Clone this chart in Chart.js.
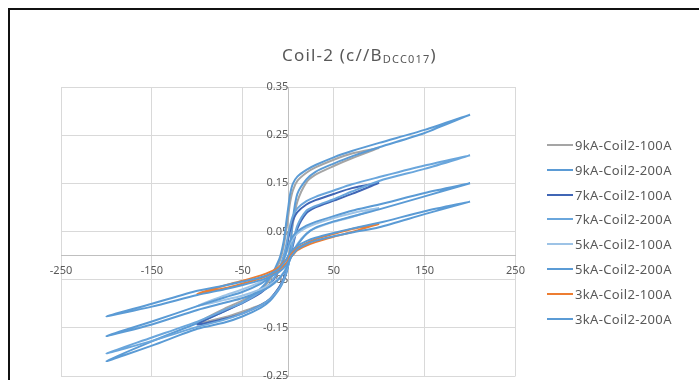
<!DOCTYPE html>
<html>
<head>
<meta charset="utf-8">
<title>Coil-2 (c//B DCC017)</title>
<script src="https://cdn.jsdelivr.net/npm/chart.js@4.4.0/dist/chart.umd.min.js"></script>
<style>
  body { margin: 0; background: #fff; overflow: hidden; }
  #wrap { position: relative; width: 699px; height: 380px; }
  canvas { position: absolute; left: 0; top: 0; }
  #frame {
    position: absolute; left: 8px; top: 8px; width: 700px; height: 380px;
    border-top: 2px solid #111; border-left: 2px solid #111; pointer-events: none;
  }
  #chartTitle {
    position: absolute; left: 282px; top: 45px; white-space: nowrap;
    font-family: "Noto Sans", sans-serif; font-size: 17px; line-height: 20px;
    color: #595959; letter-spacing: 1.2px;
  }
  #chartTitle .sub { font-size: 11px; vertical-align: -2px; }
  #legend {
    position: absolute; left: 547px; top: 132.6px; margin: 0; padding: 0; list-style: none;
    font-family: "Noto Sans", sans-serif; font-size: 13px; color: #595959; letter-spacing: 0.35px;
  }
  #legend li { display: flex; align-items: center; height: 24.8px; white-space: nowrap; }
  #legend .swatch { width: 26px; height: 2px; margin-right: 2px; }
</style>
</head>
<body>
<div id="wrap">
  <canvas id="coilChart" width="699" height="380"></canvas>
  <div id="frame"></div>
  <div id="chartTitle">Coil-2 (c//B<span class="sub">DCC017</span>)</div>
  <ul id="legend"></ul>
</div>
<script>
// current sweep (A): down = +max -> -max, up = -max -> +max
const fieldDown200 = [200, 150, 100, 70, 50, 30, 20, 10, 5, 2, 0, -2, -5, -10, -20, -30, -50, -70, -100, -150, -200];
const fieldUp200 = [-200, -150, -100, -70, -50, -30, -20, -10, -5, -2, 0, 2, 5, 10, 20, 30, 50, 70, 100, 150, 200];
const fieldDown100 = [100, 70, 50, 30, 20, 10, 5, 2, 0, -2, -5, -10, -20, -30, -50, -70, -100];
const fieldUp100 = [-100, -70, -50, -30, -20, -10, -5, -2, 0, 2, 5, 10, 20, 30, 50, 70, 100];

const kA9_100Down = [0.2235, 0.212, 0.199, 0.183, 0.172, 0.155, 0.135, 0.110, 0.082, 0.055, 0.020, -0.015, -0.050, -0.070, -0.093, -0.110, -0.140];
const kA9_100Up = [-0.140, -0.128, -0.116, -0.102, -0.090, -0.066, -0.048, -0.031, -0.013, 0.020, 0.065, 0.112, 0.152, 0.168, 0.186, 0.202, 0.2235];
const kA9_200Down = [0.2925, 0.261, 0.234, 0.217, 0.204, 0.188, 0.178, 0.164, 0.149, 0.127, 0.100, 0.072, 0.030, -0.008, -0.045, -0.068, -0.097, -0.115, -0.140, -0.178, -0.219];
const kA9_200Up = [-0.219, -0.187, -0.152, -0.139, -0.126, -0.108, -0.094, -0.070, -0.052, -0.036, -0.020, 0.010, 0.075, 0.128, 0.158, 0.174, 0.191, 0.206, 0.225, 0.2545, 0.2925];

const kA7_100Down = [0.151, 0.140, 0.128, 0.115, 0.106, 0.090, 0.072, 0.052, 0.035, 0.017, -0.005, -0.030, -0.060, -0.077, -0.098, -0.115, -0.143];
const kA7_100Up = [-0.143, -0.131, -0.120, -0.103, -0.090, -0.066, -0.048, -0.032, -0.018, -0.002, 0.020, 0.056, 0.088, 0.100, 0.114, 0.128, 0.151];
const kA7_200Down = [0.208, 0.187, 0.163, 0.148, 0.135, 0.122, 0.113, 0.098, 0.082, 0.062, 0.045, 0.024, 0.000, -0.028, -0.058, -0.075, -0.097, -0.113, -0.137, -0.170, -0.203];
const kA7_200Up = [-0.203, -0.177, -0.148, -0.133, -0.120, -0.103, -0.090, -0.068, -0.050, -0.034, -0.020, -0.002, 0.025, 0.062, 0.093, 0.103, 0.117, 0.133, 0.155, 0.180, 0.208];

const kA5_100Down = [0.099, 0.088, 0.078, 0.066, 0.058, 0.046, 0.036, 0.026, 0.016, 0.006, -0.008, -0.024, -0.042, -0.054, -0.070, -0.083, -0.104];
const kA5_100Up = [-0.104, -0.092, -0.083, -0.070, -0.061, -0.046, -0.035, -0.026, -0.018, -0.008, 0.004, 0.024, 0.046, 0.057, 0.070, 0.080, 0.099];
const kA5_200Down = [0.150, 0.130, 0.106, 0.093, 0.082, 0.070, 0.062, 0.050, 0.040, 0.030, 0.020, 0.008, -0.008, -0.025, -0.045, -0.058, -0.075, -0.087, -0.105, -0.137, -0.167];
const kA5_200Up = [-0.167, -0.143, -0.113, -0.098, -0.088, -0.074, -0.064, -0.048, -0.036, -0.026, -0.018, -0.008, 0.005, 0.022, 0.045, 0.058, 0.071, 0.081, 0.096, 0.123, 0.150];

const kA3_100Down = [0.066, 0.055, 0.045, 0.034, 0.026, 0.016, 0.008, 0.002, -0.003, -0.008, -0.014, -0.024, -0.034, -0.041, -0.052, -0.062, -0.079];
const kA3_100Up = [-0.079, -0.068, -0.058, -0.047, -0.039, -0.029, -0.021, -0.015, -0.010, -0.005, 0.001, 0.011, 0.021, 0.028, 0.039, 0.049, 0.066];
const kA3_200Down = [0.112, 0.092, 0.068, 0.056, 0.047, 0.037, 0.030, 0.020, 0.012, 0.006, 0.000, -0.008, -0.016, -0.027, -0.038, -0.045, -0.054, -0.062, -0.073, -0.100, -0.126];
const kA3_200Up = [-0.126, -0.106, -0.082, -0.070, -0.061, -0.051, -0.044, -0.034, -0.026, -0.020, -0.014, -0.006, 0.002, 0.013, 0.024, 0.031, 0.040, 0.048, 0.059, 0.086, 0.112];

const seriesNames = [
  "9kA-Coil2-100A", "9kA-Coil2-200A", "7kA-Coil2-100A", "7kA-Coil2-200A",
  "5kA-Coil2-100A", "5kA-Coil2-200A", "3kA-Coil2-100A", "3kA-Coil2-200A",
];
const currentRange = [-250, 250];
const magnetRange = [-0.25, 0.35];

const seriesColors = ["#A5A5A5", "#5B9BD5", "#4066B5", "#6AA6DC", "#9DC3E6", "#5B9BD5", "#ED7D31", "#5B9BD5"];

function loopPoints(fieldDown, down, fieldUp, up) {
  const pts = fieldDown.map((x, i) => ({ x: x, y: down[i] }));
  fieldUp.forEach((x, i) => {
    if (i > 0) pts.push({ x: x, y: up[i] });
  });
  return pts;
}

const loops = [
  loopPoints(fieldDown100, kA9_100Down, fieldUp100, kA9_100Up),
  loopPoints(fieldDown200, kA9_200Down, fieldUp200, kA9_200Up),
  loopPoints(fieldDown100, kA7_100Down, fieldUp100, kA7_100Up),
  loopPoints(fieldDown200, kA7_200Down, fieldUp200, kA7_200Up),
  loopPoints(fieldDown100, kA5_100Down, fieldUp100, kA5_100Up),
  loopPoints(fieldDown200, kA5_200Down, fieldUp200, kA5_200Up),
  loopPoints(fieldDown100, kA3_100Down, fieldUp100, kA3_100Up),
  loopPoints(fieldDown200, kA3_200Down, fieldUp200, kA3_200Up),
];

Chart.defaults.font.family = "'Noto Sans', sans-serif";
Chart.defaults.color = "#595959";

const ctx = document.getElementById("coilChart").getContext("2d");

const chart = new Chart(ctx, {
  type: "scatter",
  data: {
    datasets: seriesNames.map((name, i) => ({
      label: name,
      data: loops[i],
      xAxisID: "x",
      yAxisID: "y",
      showLine: true,
      borderColor: seriesColors[i],
      backgroundColor: seriesColors[i],
      borderWidth: 2,
      pointRadius: 0,
      tension: 0.25,
      order: -i,
    })),
  },
  options: {
    responsive: false,
    animation: false,
    events: [],
    layout: {
      padding: { left: 61, top: 87, right: 183.5, bottom: 4 },
    },
    plugins: {
      title: { display: false },
      tooltip: { enabled: false },
      legend: { display: false },
    },
    scales: {
      x: {
        type: "linear",
        position: { y: 0 },
        min: currentRange[0],
        max: currentRange[1],
        ticks: {
          stepSize: 100,
          padding: 9,
          font: { size: 11 },
          color: "#595959",
        },
        grid: { color: "#D9D9D9", drawTicks: false },
        border: { color: "#BFBFBF" },
      },
      y: {
        type: "linear",
        position: { x: 0 },
        min: magnetRange[0],
        max: magnetRange[1],
        ticks: {
          stepSize: 0.1,
          padding: 13,
          font: { size: 11 },
          color: "#595959",
          callback: (v) => v.toFixed(2),
        },
        grid: { color: "#D9D9D9", drawTicks: false },
        border: { color: "#BFBFBF" },
        afterFit: (scale) => {
          scale.paddingBottom = 0;
        },
      },
    },
  },
});

// legend built from the chart's own datasets
const legendList = document.getElementById("legend");
chart.data.datasets.forEach((ds) => {
  const li = document.createElement("li");
  const swatch = document.createElement("span");
  swatch.className = "swatch";
  swatch.style.background = ds.borderColor;
  li.appendChild(swatch);
  li.appendChild(document.createTextNode(ds.label));
  legendList.appendChild(li);
});
</script>
</body>
</html>
